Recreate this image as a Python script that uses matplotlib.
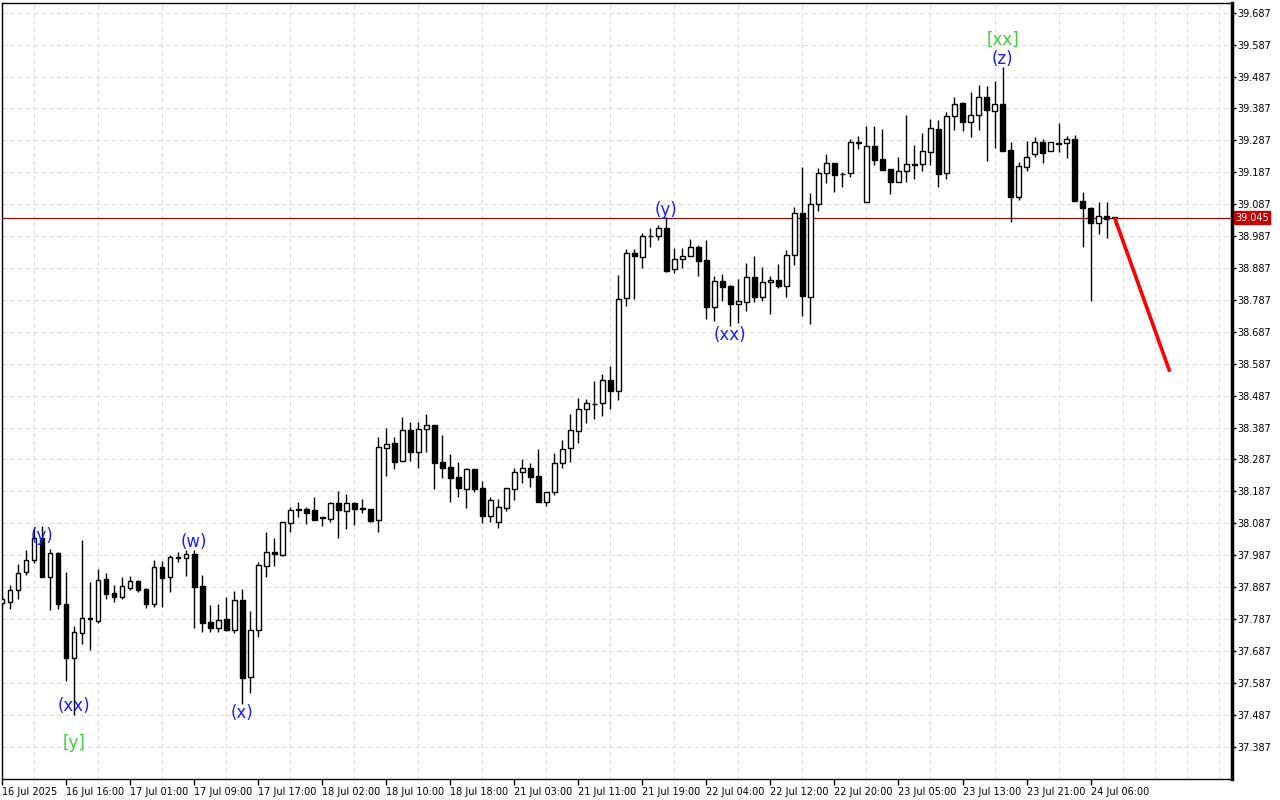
import matplotlib
matplotlib.use("Agg")
import matplotlib.pyplot as plt
import matplotlib.transforms as mtransforms

opens = [37.838, 37.839, 37.877, 37.933, 37.971, 38.040, 37.920, 37.994, 37.834, 37.664,
         37.742, 37.788, 37.782, 37.912, 37.868, 37.857, 37.884, 37.906, 37.881, 37.833,
         37.949, 37.918, 37.979, 37.977, 37.991, 37.891, 37.777, 37.758, 37.787, 37.753,
         37.847, 37.604, 37.752, 37.954, 37.997, 37.988, 38.087, 38.129, 38.131, 38.128,
         38.106, 38.101, 38.151, 38.124, 38.151, 38.132, 38.132, 38.096, 38.322, 38.339,
         38.281, 38.379, 38.311, 38.382, 38.395, 38.279, 38.263, 38.232, 38.195, 38.257,
         38.198, 38.111, 38.090, 38.136, 38.195, 38.247, 38.259, 38.235, 38.155, 38.184,
         38.275, 38.322, 38.377, 38.444, 38.462, 38.463, 38.535, 38.503, 38.792, 38.933,
         38.921, 38.986, 38.987, 39.011, 38.883, 38.914, 38.923, 38.952, 38.912, 38.764,
         38.846, 38.831, 38.775, 38.780, 38.858, 38.797, 38.842, 38.850, 38.832, 38.927,
         39.058, 38.797, 39.087, 39.184, 39.215, 39.181, 39.184, 39.279, 39.093, 39.269,
         39.229, 39.196, 39.157, 39.191, 39.211, 39.212, 39.252, 39.323, 39.184, 39.364,
         39.405, 39.346, 39.367, 39.422, 39.380, 39.401, 39.257, 39.109, 39.203, 39.243,
         39.281, 39.254, 39.277, 39.278, 39.291, 39.097, 39.074, 39.027, 39.051, 39.045]
highs = [37.860, 37.894, 37.959, 38.003, 38.076, 38.078, 38.006, 37.996, 37.935, 37.765,
         38.035, 37.904, 37.944, 37.932, 37.894, 37.918, 37.922, 37.908, 37.884, 37.972,
         37.969, 37.988, 37.996, 38.003, 38.003, 37.925, 37.831, 37.834, 37.855, 37.875,
         37.880, 37.812, 37.967, 38.059, 38.040, 38.090, 38.137, 38.153, 38.137, 38.168,
         38.108, 38.153, 38.189, 38.179, 38.153, 38.163, 38.133, 38.357, 38.385, 38.356,
         38.420, 38.404, 38.404, 38.430, 38.396, 38.364, 38.304, 38.279, 38.259, 38.258,
         38.220, 38.170, 38.162, 38.198, 38.259, 38.288, 38.277, 38.319, 38.186, 38.306,
         38.348, 38.430, 38.479, 38.476, 38.533, 38.555, 38.579, 38.865, 38.946, 38.946,
         38.998, 39.011, 39.022, 39.048, 38.949, 38.949, 38.977, 38.959, 38.975, 38.862,
         38.868, 38.833, 38.853, 38.902, 38.925, 38.891, 38.862, 38.900, 38.944, 39.079,
         39.205, 39.121, 39.200, 39.244, 39.216, 39.189, 39.290, 39.301, 39.332, 39.332,
         39.323, 39.197, 39.234, 39.367, 39.273, 39.311, 39.353, 39.351, 39.377, 39.424,
         39.407, 39.440, 39.461, 39.458, 39.474, 39.518, 39.283, 39.220, 39.285, 39.297,
         39.291, 39.282, 39.341, 39.301, 39.304, 39.124, 39.079, 39.095, 39.093, 39.046]
lows = [37.820, 37.817, 37.849, 37.926, 37.962, 37.918, 37.815, 37.819, 37.593, 37.486,
        37.709, 37.690, 37.775, 37.850, 37.840, 37.850, 37.878, 37.870, 37.821, 37.826,
        37.826, 37.873, 37.965, 37.923, 37.758, 37.745, 37.745, 37.745, 37.748, 37.742,
        37.521, 37.556, 37.732, 37.920, 37.954, 37.985, 38.059, 38.106, 38.085, 38.096,
        38.079, 38.092, 38.040, 38.070, 38.080, 38.120, 38.091, 38.061, 38.235, 38.258,
        38.281, 38.282, 38.261, 38.311, 38.195, 38.230, 38.155, 38.170, 38.136, 38.186,
        38.089, 38.092, 38.071, 38.126, 38.160, 38.214, 38.202, 38.155, 38.141, 38.176,
        38.261, 38.280, 38.340, 38.400, 38.414, 38.424, 38.445, 38.473, 38.769, 38.790,
        38.886, 38.954, 38.975, 38.875, 38.872, 38.888, 38.923, 38.863, 38.726, 38.722,
        38.782, 38.705, 38.714, 38.753, 38.780, 38.784, 38.742, 38.824, 38.797, 38.897,
        38.738, 38.712, 39.067, 39.153, 39.126, 39.140, 39.173, 39.260, 39.093, 39.210,
        39.193, 39.118, 39.156, 39.157, 39.165, 39.192, 39.210, 39.142, 39.165, 39.320,
        39.317, 39.298, 39.320, 39.223, 39.262, 39.254, 39.032, 39.100, 39.192, 39.234,
        39.217, 39.253, 39.252, 39.231, 39.097, 38.954, 38.785, 38.994, 38.980, 39.022]
closes = [37.850, 37.878, 37.930, 37.971, 38.040, 37.919, 37.993, 37.835, 37.666, 37.745,
          37.790, 37.790, 37.909, 37.866, 37.857, 37.890, 37.906, 37.878, 37.833, 37.949,
          37.916, 37.980, 37.980, 37.991, 37.888, 37.774, 37.758, 37.784, 37.753, 37.847,
          37.603, 37.753, 37.955, 37.996, 37.990, 38.090, 38.128, 38.131, 38.120, 38.097,
          38.104, 38.151, 38.127, 38.151, 38.132, 38.134, 38.095, 38.325, 38.336, 38.280,
          38.378, 38.311, 38.382, 38.395, 38.275, 38.261, 38.230, 38.197, 38.257, 38.195,
          38.111, 38.160, 38.137, 38.197, 38.248, 38.259, 38.233, 38.155, 38.184, 38.275,
          38.319, 38.378, 38.444, 38.463, 38.460, 38.535, 38.503, 38.789, 38.933, 38.923,
          38.987, 38.988, 39.011, 38.879, 38.914, 38.923, 38.954, 38.910, 38.766, 38.846,
          38.828, 38.775, 38.784, 38.858, 38.797, 38.842, 38.850, 38.832, 38.928, 39.058,
          38.800, 39.088, 39.184, 39.215, 39.178, 39.183, 39.281, 39.280, 39.269, 39.226,
          39.194, 39.157, 39.190, 39.212, 39.213, 39.254, 39.325, 39.182, 39.363, 39.401,
          39.346, 39.367, 39.422, 39.382, 39.401, 39.255, 39.109, 39.207, 39.234, 39.281,
          39.247, 39.281, 39.279, 39.291, 39.098, 39.074, 39.027, 39.051, 39.040, 39.045]

time_labels = ["16 Jul 2025", "16 Jul 16:00", "17 Jul 01:00", "17 Jul 09:00", "17 Jul 17:00",
               "18 Jul 02:00", "18 Jul 10:00", "18 Jul 18:00", "21 Jul 03:00", "21 Jul 11:00",
               "21 Jul 19:00", "22 Jul 04:00", "22 Jul 12:00", "22 Jul 20:00", "23 Jul 05:00",
               "23 Jul 13:00", "23 Jul 21:00", "24 Jul 06:00"]
price_ticks = [37.387, 37.487, 37.587, 37.687, 37.787, 37.887, 37.987, 38.087, 38.187, 38.287,
               38.387, 38.487, 38.587, 38.687, 38.787, 38.887, 38.987, 39.087, 39.187, 39.287,
               39.387, 39.487, 39.587, 39.687]
current_price = 39.045
forecast_x = [139, 145.9]
forecast_y = [39.045, 38.562]

# wave labels: (bar index, price, text, color)
wave_labels = [(5, 38.047, "(y)", "#1a1aff"),
               (9, 37.515, "(xx)", "#1a1aff"),
               (9, 37.399, "[y]", "#44cc44"),
               (24, 38.028, "(w)", "#1a1aff"),
               (30, 37.493, "(x)", "#1a1aff"),
               (83, 39.069, "(y)", "#1a1aff"),
               (91, 38.677, "(xx)", "#1a1aff"),
               (125, 39.602, "[xx]", "#44cc44"),
               (125, 39.542, "(z)", "#1a1aff")]

fig = plt.figure(figsize=(12.8, 8), dpi=100)
ax = fig.add_axes([1.7 / 1280, 21 / 800, (1232 - 1.7) / 1280, 776 / 800])
ax.set_facecolor("white")

n = len(opens)
xs = list(range(n))
ax.vlines(xs, lows, highs, color="black", linewidth=1.0, zorder=3)
bottoms = [min(o, c) for o, c in zip(opens, closes)]
heights = [max(abs(c - o), 0.0015) for o, c in zip(opens, closes)]
fills = ["white" if c >= o else "black" for o, c in zip(opens, closes)]
ax.bar(xs, heights, bottom=bottoms, width=0.58, color=fills, edgecolor="black",
       linewidth=1.0, zorder=4)

ax.axhline(current_price, color="#8c1010", linewidth=0.9, zorder=2)
ax.plot(forecast_x, forecast_y, color="#ff0000", linewidth=2.6, zorder=5,
        solid_capstyle="butt")

for xi, yi, txt, col in wave_labels:
    ax.text(xi, yi, txt, color=col, fontsize=12, ha="center", va="center", zorder=6)

ax.set_xlim(-0.05, (1232 - 2) / 8.004)
ax.set_ylim(37.2855, 39.7174)

ax.set_xticks(list(range(0, 8 * len(time_labels), 8)))
ax.set_xticklabels(time_labels, fontsize=7, ha="left")
ax.set_xticks(list(range(0, 154, 4)), minor=True)
ax.tick_params(axis="x", which="major", direction="out", length=4, width=1, pad=2)
ax.tick_params(axis="x", which="minor", length=0)
ax.grid(True, axis="x", which="minor", color="#dedede", linestyle=(0, (4, 3)), linewidth=0.8, zorder=0)

ax.yaxis.tick_right()
ax.set_yticks(price_ticks)
ax.set_yticklabels(["%.3f" % p for p in price_ticks], fontsize=7)
ax.tick_params(axis="y", direction="out", length=3, width=1, pad=1)
ax.grid(True, axis="y", which="major", color="#dedede", linestyle=(0, (4, 3)), linewidth=0.8, zorder=0)
ax.set_axisbelow(True)

for s in ["top", "left", "bottom"]:
    ax.spines[s].set_linewidth(1.0)
    ax.spines[s].set_color("black")
ax.spines["right"].set_linewidth(2.5)

trans = mtransforms.blended_transform_factory(ax.transAxes, ax.transData)
ax.text(1.0025, current_price, "%.3f" % current_price, transform=trans, fontsize=7,
        color="white", va="center", ha="left", zorder=7,
        bbox=dict(boxstyle="square,pad=0.15", facecolor="#c80000", edgecolor="#c80000"))

fig.savefig("out.png", dpi=100, facecolor="white")
